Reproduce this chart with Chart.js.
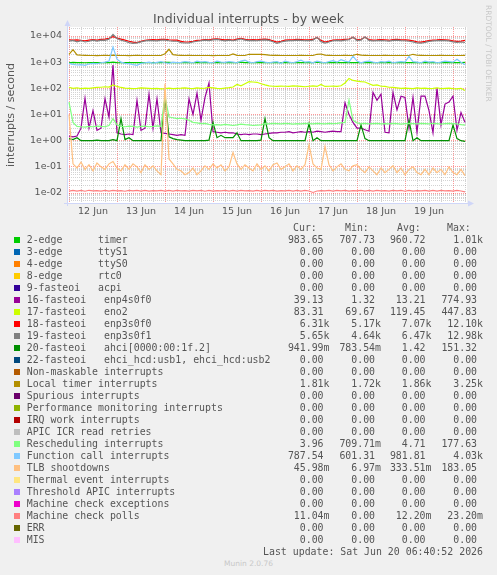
<!DOCTYPE html>
<html>
<head>
<meta charset="utf-8">
<script src="https://cdn.jsdelivr.net/npm/chart.js"></script>
<style>
  body { margin: 0; background: #f0f0f0; }
  #wrap { position: relative; width: 497px; height: 575px; overflow: hidden; font-family: "DejaVu Sans", sans-serif; color: #555; }
  #c { position: absolute; left: 0; top: 0; }
  .t { position: absolute; white-space: pre; }
  .mono { font-family: "DejaVu Sans Mono", monospace; font-size: 9.9px; line-height: 12px; }
  .sq { position: absolute; width: 6px; height: 6px; }
</style>
</head>
<body>
<div id="wrap">
  <canvas id="c" width="497" height="225"></canvas>
  <div class="t" style="left:0;width:497px;top:11px;text-align:center;font-size:12.5px;line-height:16px;">Individual interrupts - by week</div>
  <div class="t" style="left:-49px;top:109px;width:120px;text-align:center;font-size:11px;line-height:12px;transform:rotate(-90deg);">interrupts / second</div>
  <div class="t" style="left:484px;top:5px;writing-mode:vertical-rl;font-size:7.5px;color:#c8c8c8;">RRDTOOL / TOBI OETIKER</div>
  <div class="t" style="left:0;width:497px;top:559px;text-align:center;font-size:7.5px;color:#c8c8c8;">Munin 2.0.76</div>
  <div id="legend"></div>
</div>
<script>
// time axis: hours since 12 Jun 00:00, one sample every 2 hours
const hours = [0,2,4,6,8,10,12,14,16,18,20,22,24,26,28,30,32,34,36,38,40,42,44,46,48,50,52,54,56,58,60,62,64,66,68,70,72,74,76,78,80,82,84,86,88,90,92,94,96,98,100,102,104,106,108,110,112,114,116,118,120,122,124,126,128,130,132,134,136,138,140,142,144,146,148,150,152,154,156,158,160,162,164,166,168,170,172,174,176,178,180,182,184,186,188,190,192,194,196,198];
const xTickHours = [0,6,12,18,24,30,36,42,48,54,60,66,72,78,84,90,96,102,108,114,120,126,132,138,144,150,156,162,168,174,180,186,192,198];
const dayLabels = ['12 Jun','13 Jun','14 Jun','15 Jun','16 Jun','17 Jun','18 Jun','19 Jun'];
const yTickLabels = ['1e-02','1e-01','1e+00','1e+01','1e+02','1e+03','1e+04'];
const yDecades = [-2,-1,0,1,2,3,4];

const timerVals = [940,980,960,970,950,965,960,970,960,955,965,1000,960,950,960,965,960,955,960,970,960,965,960,955,980,990,960,960,955,960,965,960,960,955,960,965,960,960,955,960,965,960,960,1000,960,955,960,965,960,960,955,960,965,960,960,955,960,965,960,960,955,960,1000,960,955,960,965,960,960,955,960,970,960,955,960,965,960,960,955,960,965,960,960,955,960,965,960,960,955,960,965,960,960,955,960,965,960,960,955,983];
const enp4Vals = [1.5,1.4,1.5,3,42,3,14,2.5,3,40,8,770,2,1.8,1.7,1.8,1.7,35,2.5,3,60,3,40,2,1.9,1.8,1.7,1.6,1.7,1.6,40,10,65,6,45,160,2.2,2.1,2.0,2.1,2.0,2.0,1.8,1.7,1.8,1.7,1.8,1.8,1.7,1.8,1.9,2.0,2.0,2.1,2.1,2.2,2.0,2.1,2.2,2.1,2.2,2.1,2.3,2.2,2.1,2.2,2.3,2.2,2.2,28,10,5,3,3,2.6,2.3,70,35,60,2.1,2.0,70,15,50,45,3,45,2.1,50,50,14,2.0,100,4,25,30,50,2.5,12,5];
const eno2Vals = [110,100,105,98,102,100,104,108,110,115,112,135,118,108,102,100,98,100,104,102,100,98,100,96,98,102,98,100,102,105,100,98,104,100,102,108,105,100,98,102,106,112,140,125,150,180,175,170,150,135,125,120,118,122,120,118,125,122,118,115,120,125,118,140,118,120,122,118,125,160,240,200,190,180,175,150,130,135,120,118,110,108,105,100,102,100,98,104,100,102,98,100,105,98,100,102,98,96,100,83];
const enp3f0Vals = [7200,6900,7100,6800,6600,7000,7300,7000,7400,7600,8200,9500,8400,7600,7000,6300,5800,5600,6200,6800,7200,7300,7100,7400,7500,7200,7000,6900,6200,5900,6000,6300,6800,7000,7300,7200,7600,7800,7400,7100,7300,7000,7600,8200,7400,7200,7300,7100,7400,7600,7300,6500,5800,6300,6900,7100,7200,7400,7300,7200,7100,7400,8800,6800,5900,6400,7000,7200,7100,7400,7700,8800,7200,7500,8900,7300,7000,7100,7300,7200,6900,7300,7400,7200,7100,6900,6600,6000,5800,6200,6700,7000,7100,7300,7200,7000,6500,6200,6400,6800];
const enp3f1Vals = [6400,6800,6000,6700,5900,6300,6900,6400,7000,6800,7600,11500,8000,6900,6300,5600,5200,5500,6000,6500,6800,6700,6500,7000,6900,6600,6400,6300,5600,5400,5500,5900,6300,6600,6900,6700,7100,7400,6900,6500,6900,6600,7100,7800,6900,6700,6800,6600,7000,7100,6800,6000,5200,5900,6400,6600,6700,6900,6800,6600,6700,7000,9000,6100,5400,5900,6600,6800,6500,6900,7200,9200,6700,7000,9300,6800,6500,6600,6800,6600,6400,6800,6900,6700,6600,6300,6000,5400,5300,5700,6200,6500,6600,6800,6700,6500,6000,5700,5900,5650];
const ahciVals = [1.2,1.1,1.3,1.0,1.0,1.0,1.0,1.05,1.0,1.0,1.0,1.1,1.0,7,1.1,1.3,1.0,1.0,1.0,1.0,1.0,1.0,1.0,1.0,45,1.4,1.2,1.1,1.05,1.0,1.0,1.0,1.0,1.0,1.0,1.05,5,1.3,1.6,1.3,1.3,1.3,2,1.0,1.0,1.0,1.0,1.0,1.05,7,1.3,1.0,1.0,1.0,1.0,1.0,1.0,1.0,1.0,1.0,4.5,1.0,1.3,1.0,1.0,1.0,1.0,1.0,1.0,1.0,1.0,1.0,1.0,4,1.2,1.0,1.0,1.0,1.0,1.0,1.0,1.0,1.0,1.0,1.0,6,1.0,1.3,1.0,1.0,1.0,1.0,1.0,1.0,1.0,1.0,4,1.2,1.0,0.94];
const localVals = [2000,3000,1900,1850,1820,1800,1800,1790,1800,1810,1800,1850,1820,1800,1800,1790,1800,1810,1800,1800,1800,1800,1800,1800,2100,3100,1950,1850,1820,1800,1810,1800,1800,1800,1800,1800,1790,1800,1800,1800,1800,2050,1820,1800,1800,2000,2000,2000,2000,1950,1850,1820,1810,1800,1800,1800,1800,1800,1810,1800,1800,1800,2000,2050,1850,1820,1800,1800,1800,1810,1800,1820,2000,1850,1830,1800,1800,1800,1800,1810,1800,1800,1800,1800,1800,1800,2000,1840,1820,1800,1800,1800,1800,1810,1800,1800,1800,1800,1800,1810];
const reschedVals = [30,5,3.5,3.4,3.3,3.5,3.4,3.6,3.5,3.4,3.8,7,4,3.5,3.4,3.6,3.5,3.3,3.5,3.6,3.4,3.5,3.7,3.5,50,8,7.5,7,7.2,6.8,6,5,4.8,4.5,4.6,4.2,4,4.1,3.9,4.2,4,3.8,4,4.3,4.1,4,3.8,3.9,4,4.5,4.4,4.6,4.5,4.4,4.6,4.5,4.3,4.5,4.4,4.6,4.5,4.4,4.6,4.5,4.4,4.6,4.5,4.6,4.8,5,35,6,4.8,4.5,4.6,4.4,4.5,4.6,4.4,4.5,4.4,4.6,4.5,4.3,4.5,4.6,4.5,4.4,4.6,4.5,4.4,4.6,4.5,4.3,4.5,4.6,4.5,4.4,4.1,3.96];
const callVals = [900,820,780,800,760,850,900,870,950,1000,1100,3800,1300,1000,900,880,800,760,900,950,1000,920,980,1050,950,900,1000,960,980,1050,1000,950,1100,1000,1050,980,950,1100,1000,980,1050,1000,950,1100,1200,1000,950,1050,1100,1000,950,1000,1050,900,1100,1000,950,1050,1200,1000,1050,950,1100,1000,950,1050,1150,1000,1250,1100,1000,1700,1100,950,1050,1100,1000,950,1050,1000,1100,950,1000,1050,1000,1650,1050,1000,950,1100,1000,1050,950,1000,1100,1050,1000,1300,1000,790];
const tlbVals = [10,0.13,0.09,0.15,0.08,0.12,0.07,0.14,0.1,0.08,0.13,0.16,0.09,0.07,0.12,0.08,0.13,0.1,0.06,0.12,0.08,0.11,0.07,0.05,150,0.2,0.13,0.08,0.07,0.05,0.06,0.09,0.05,0.07,0.11,0.08,0.13,0.09,0.12,0.07,0.1,0.35,0.13,0.08,0.12,0.09,0.07,0.13,0.08,0.11,0.07,0.12,0.14,0.08,0.1,0.13,0.07,0.11,0.08,0.12,0.7,0.13,0.09,0.08,0.6,0.12,0.07,0.1,0.13,0.08,0.07,0.11,0.12,0.08,0.06,0.1,0.07,0.05,0.09,0.06,0.08,0.11,0.06,0.09,0.05,0.08,0.1,0.06,0.05,0.08,0.05,0.09,0.06,0.08,0.05,0.1,0.06,0.05,0.08,0.046];
const mcpVals = [0.0118,0.0126,0.0119,0.0125,0.0117,0.0127,0.0120,0.0124,0.0118,0.0126,0.0119,0.0125,0.0121,0.0124,0.0117,0.0126,0.0120,0.0125,0.0118,0.0127,0.0119,0.0124,0.0120,0.0126,0.0118,0.0125,0.0119,0.0127,0.0120,0.0124,0.0118,0.0126,0.0121,0.0125,0.0117,0.0126,0.0119,0.0124,0.0120,0.0127,0.0118,0.0125,0.0119,0.0126,0.0120,0.0124,0.0118,0.0127,0.0119,0.0125,0.0120,0.0126,0.0118,0.0124,0.0121,0.0125,0.0119,0.0127,0.0118,0.0126,0.0119,0.0105,0.0119,0.0124,0.0120,0.0126,0.0118,0.0125,0.0121,0.0127,0.0119,0.0124,0.0120,0.0126,0.0118,0.0125,0.0119,0.0127,0.0120,0.0124,0.0118,0.0126,0.0121,0.0125,0.0117,0.0126,0.0119,0.0124,0.0120,0.0127,0.0118,0.0125,0.0119,0.0126,0.0120,0.0124,0.0118,0.0127,0.0119,0.0110];

// legend table
const legendNames = ['2-edge      timer','3-edge      ttyS1','4-edge      ttyS0','8-edge      rtc0','9-fasteoi   acpi','16-fasteoi   enp4s0f0','17-fasteoi   eno2','18-fasteoi   enp3s0f0','19-fasteoi   enp3s0f1','20-fasteoi   ahci[0000:00:1f.2]','22-fasteoi   ehci_hcd:usb1, ehci_hcd:usb2','Non-maskable interrupts','Local timer interrupts','Spurious interrupts','Performance monitoring interrupts','IRQ work interrupts','APIC ICR read retries','Rescheduling interrupts','Function call interrupts','TLB shootdowns','Thermal event interrupts','Threshold APIC interrupts','Machine check exceptions','Machine check polls','ERR','MIS'];
const legendColors = ['#00CC00','#0066B3','#FF8000','#FFCC00','#330099','#990099','#CCFF00','#FF0000','#808080','#008F00','#00487D','#B35A00','#B38F00','#6B006B','#8FB300','#B30000','#BEBEBE','#80FF80','#80C9FF','#FFC080','#FFE680','#AA80FF','#EE00CC','#FF8080','#666600','#FFBFFF'];
const curVals = ['983.65','0.00','0.00','0.00','0.00','39.13','83.31','6.31k','5.65k','941.99m','0.00','0.00','1.81k','0.00','0.00','0.00','0.00','3.96','787.54','45.98m','0.00','0.00','0.00','11.04m','0.00','0.00'];
const minVals = ['707.73','0.00','0.00','0.00','0.00','1.32','69.67','5.17k','4.64k','783.54m','0.00','0.00','1.72k','0.00','0.00','0.00','0.00','709.71m','601.31','6.97m','0.00','0.00','0.00','0.00','0.00','0.00'];
const avgVals = ['960.72','0.00','0.00','0.00','0.00','13.21','119.45','7.07k','6.47k','1.42','0.00','0.00','1.86k','0.00','0.00','0.00','0.00','4.71','981.81','333.51m','0.00','0.00','0.00','12.20m','0.00','0.00'];
const maxVals = ['1.01k','0.00','0.00','0.00','0.00','774.93','447.83','12.10k','12.98k','151.32','0.00','0.00','3.25k','0.00','0.00','0.00','0.00','177.63','4.03k','183.05','0.00','0.00','0.00','23.20m','0.00','0.00'];
const lastUpdate = 'Last update: Sat Jun 20 06:40:52 2026';

// plotted series (zero-valued ones have nothing to show on a log axis)
const plotted = [
  [0, timerVals], [5, enp4Vals], [6, eno2Vals], [7, enp3f0Vals], [8, enp3f1Vals],
  [9, ahciVals], [12, localVals], [17, reschedVals], [18, callVals], [19, tlbVals], [23, mcpVals]
];

const yMin = Math.pow(10, -2.382);
const yMax = Math.pow(10, 4.344);

Chart.defaults.font.family = '"DejaVu Sans", sans-serif';
Chart.defaults.color = '#555';

const plotBg = {
  id: 'plotBg',
  beforeDraw(c) {
    const { ctx, chartArea: a } = c;
    ctx.save();
    ctx.fillStyle = '#ffffff';
    ctx.fillRect(a.left, a.top, a.right - a.left, a.bottom - a.top);
    ctx.restore();
  }
};

const arrows = {
  id: 'arrows',
  afterDraw(c) {
    const { ctx, chartArea: a } = c;
    ctx.save();
    ctx.strokeStyle = '#CFD6F8';
    ctx.fillStyle = '#CFD6F8';
    ctx.lineWidth = 1;
    ctx.beginPath();
    ctx.moveTo(a.left + 0.5, a.bottom + 3);
    ctx.lineTo(a.left + 0.5, a.top - 3);
    ctx.moveTo(a.left - 3, a.bottom + 0.5);
    ctx.lineTo(a.right + 3, a.bottom + 0.5);
    ctx.stroke();
    ctx.beginPath();
    ctx.moveTo(a.left + 0.5, a.top - 7);
    ctx.lineTo(a.left - 2.5, a.top - 1);
    ctx.lineTo(a.left + 3.5, a.top - 1);
    ctx.fill();
    ctx.beginPath();
    ctx.moveTo(a.right + 7, a.bottom + 0.5);
    ctx.lineTo(a.right + 1, a.bottom - 2.5);
    ctx.lineTo(a.right + 1, a.bottom + 3.5);
    ctx.fill();
    ctx.restore();
  }
};

const minorGrid = 'rgba(150,150,150,0.42)';
const majorGrid = 'rgba(255,0,0,0.4)';

new Chart(document.getElementById('c'), {
  type: 'line',
  data: {
    datasets: plotted.map(([idx, vals]) => ({
      label: legendNames[idx],
      data: hours.map((h, i) => ({ x: h, y: vals[i] })),
      borderColor: legendColors[idx],
      borderWidth: 1.2,
      pointRadius: 0,
      tension: 0,
      fill: false,
      order: -idx
    }))
  },
  options: {
    responsive: false,
    animation: false,
    layout: { padding: { top: 27, right: 30, left: 0, bottom: 0 } },
    plugins: { legend: { display: false }, tooltip: { enabled: false } },
    scales: {
      x: {
        type: 'linear',
        min: -1,
        max: 199,
        afterBuildTicks: s => { s.ticks = xTickHours.map(v => ({ value: v })); },
        afterFit: s => { s.height = 22; },
        ticks: {
          autoSkip: false,
          maxRotation: 0,
          padding: 3,
          font: { size: 9.5 },
          callback: v => (v % 24 === 12 ? dayLabels[(v - 12) / 24] : '')
        },
        grid: {
          drawTicks: false,
          color: ctx => (ctx.tick && ctx.tick.value % 24 === 0 ? majorGrid : minorGrid)
        },
        border: { display: false, dash: [1, 1] }
      },
      y: {
        type: 'logarithmic',
        min: yMin,
        max: yMax,
        afterBuildTicks: s => {
          const t = [];
          for (let e = -3; e <= 4; e++) {
            for (let m = 1; m <= 9; m++) {
              const v = m * Math.pow(10, e);
              if (v >= yMin && v <= yMax) t.push({ value: v });
            }
          }
          s.ticks = t;
        },
        afterFit: s => { s.width = 67; },
        ticks: {
          autoSkip: false,
          padding: 5,
          font: { size: 9.5 },
          callback: v => {
            const e = Math.round(Math.log10(v));
            if (Math.abs(Math.log10(v) - e) > 1e-6) return '';
            const k = yDecades.indexOf(e);
            return k >= 0 ? yTickLabels[k] : '';
          }
        },
        grid: {
          drawTicks: false,
          color: ctx => {
            if (!ctx.tick) return minorGrid;
            const l = Math.log10(ctx.tick.value);
            return Math.abs(l - Math.round(l)) < 1e-6 ? majorGrid : minorGrid;
          }
        },
        border: { display: false, dash: [1, 1] }
      }
    }
  },
  plugins: [plotBg, arrows]
});

// legend rows
const legend = document.getElementById('legend');
function addText(txt, css) {
  const d = document.createElement('div');
  d.className = 't mono';
  d.textContent = txt;
  d.style.cssText += css;
  legend.appendChild(d);
}
function fmt(v) { return /[km]$/.test(v) ? v : v + ' '; }
const colRight = [329.5, 381, 431.5, 483];
const colHead = ['Cur:', 'Min:', 'Avg:', 'Max:'];
const colHeadLeft = [293, 345, 397, 447];
colHead.forEach((h, j) => addText(h, `left:${colHeadLeft[j]}px;top:${228 - 6}px;`));
legendNames.forEach((name, i) => {
  const cy = 240 + 12 * i;
  const sq = document.createElement('div');
  sq.className = 'sq';
  sq.style.left = '14px';
  sq.style.top = (cy - 3.5) + 'px';
  sq.style.background = legendColors[i];
  legend.appendChild(sq);
  addText(name, `left:26.7px;top:${cy - 6}px;`);
  [curVals, minVals, avgVals, maxVals].forEach((col, j) => {
    addText(fmt(col[i]), `right:${497 - colRight[j]}px;top:${cy - 6}px;text-align:right;`);
  });
});
addText(lastUpdate, `right:${497 - 483}px;top:${552 - 6}px;text-align:right;`);
</script>
</body>
</html>
